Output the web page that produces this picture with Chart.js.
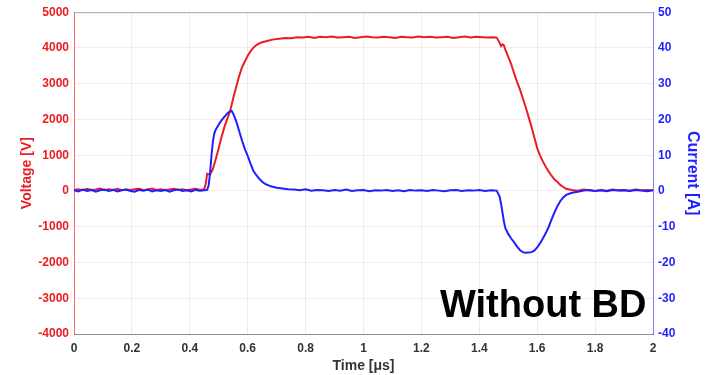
<!DOCTYPE html>
<html>
<head>
<meta charset="utf-8">
<script src="https://cdn.jsdelivr.net/npm/chart.js@4/dist/chart.umd.min.js"></script>
<style>
html,body{margin:0;padding:0;background:#fff;}
canvas{display:block;}
</style>
</head>
<body>
<canvas id="c" width="706" height="375"></canvas>
<script>
// ---- Data ----
const voltTime = [0,0.015,0.03,0.045,0.06,0.075,0.09,0.105,0.12,0.135,0.15,0.165,0.18,0.195,0.21,0.225,0.24,0.255,0.27,0.285,0.3,0.315,0.33,0.345,0.36,0.375,0.39,0.405,0.42,0.435,0.45,
  0.455,0.46,0.465,0.47,0.48,0.49,0.5,0.51,0.52,0.53,0.54,0.55,0.56,0.57,0.58,0.59,0.6,0.61,0.62,0.63,0.64,0.65,0.67,0.69,0.71,0.73,0.75,
  0.77,0.79,0.81,0.83,0.85,0.87,0.89,0.91,0.93,0.95,0.97,0.99,1.01,1.03,1.05,1.07,1.09,1.11,1.13,1.15,1.17,1.19,1.21,1.23,1.25,1.27,1.29,1.31,1.33,1.35,1.37,1.39,1.41,1.43,1.45,
  1.46,1.47,1.475,1.48,1.485,1.49,1.5,1.51,1.52,1.53,1.54,1.55,1.56,1.57,1.58,1.59,1.6,1.61,1.62,1.63,1.64,1.65,1.66,1.67,1.68,1.69,1.7,
  1.72,1.74,1.76,1.78,1.8,1.82,1.84,1.86,1.88,1.9,1.92,1.94,1.96,1.98,2.0];
const voltValues = [30,50,20,60,30,40,70,20,50,30,60,20,40,30,50,60,20,40,70,30,50,20,40,60,30,50,20,40,60,30,50,
  200,480,470,460,620,900,1200,1520,1800,2030,2250,2600,2900,3200,3450,3620,3780,3910,4010,4080,4130,4160,4200,4240,4260,4280,4270,
  4300,4290,4310,4280,4310,4300,4320,4290,4300,4310,4280,4300,4320,4300,4290,4310,4300,4280,4310,4300,4290,4320,4300,4310,4290,4300,4310,4280,4300,4320,4290,4310,4300,4290,4300,
  4290,4150,4050,4100,4070,3950,3750,3550,3300,3060,2850,2600,2350,2080,1800,1500,1200,990,820,670,540,420,320,250,170,110,60,
  30,10,40,20,0,30,10,40,20,30,10,40,20,30,20];

const currTime = [0,0.015,0.03,0.045,0.06,0.075,0.09,0.105,0.12,0.135,0.15,0.165,0.18,0.195,0.21,0.225,0.24,0.255,0.27,0.285,0.3,0.315,0.33,0.345,0.36,0.375,0.39,0.405,0.42,0.435,0.45,
  0.46,0.465,0.47,0.475,0.48,0.485,0.49,0.5,0.51,0.52,0.53,0.54,0.545,0.55,0.56,0.57,0.58,0.59,0.6,0.61,0.62,0.63,0.64,0.65,0.66,0.68,0.7,0.72,0.74,
  0.76,0.78,0.8,0.82,0.84,0.86,0.88,0.9,0.92,0.94,0.96,0.98,1.0,1.02,1.04,1.06,1.08,1.1,1.12,1.14,1.16,1.18,1.2,1.22,1.24,1.26,1.28,1.3,1.32,1.34,1.36,1.38,1.4,1.42,1.44,1.46,
  1.47,1.475,1.48,1.485,1.49,1.5,1.51,1.52,1.53,1.54,1.55,1.56,1.57,1.58,1.59,1.6,1.61,1.62,1.63,1.64,1.65,1.66,1.67,1.68,1.69,1.7,
  1.72,1.74,1.76,1.78,1.8,1.82,1.84,1.86,1.88,1.9,1.92,1.94,1.96,1.98,2.0];
const currValues = [0.2,-0.1,0.4,0,0.3,-0.2,0.2,0.4,0,0.3,-0.1,0.2,0.4,0,-0.2,0.3,0.1,0.4,-0.1,0.2,0,0.3,-0.2,0.2,0.4,0,0.2,-0.1,0.3,0.1,0.2,
  0.3,1.5,5,10,14,16.2,17.2,18.6,19.8,20.8,21.7,22.4,22.3,21.6,19.6,16.9,14.2,11.8,9.8,7.6,5.6,4.4,3.4,2.6,2.0,1.3,0.9,0.7,0.5,
  0.4,0.2,0.5,0.1,0.3,0.2,0,0.3,0.1,0.4,0,0.2,0.3,-0.1,0.2,0.1,0.3,0,0.2,-0.1,0.3,0.1,0.2,0,0.3,0.1,-0.1,0.2,0.3,0,0.2,0.1,0.3,0,0.2,0.1,
  -1.5,-3.5,-6,-8.5,-10.4,-12,-13.3,-14.3,-15.5,-16.5,-17.1,-17.3,-17.2,-17.1,-16.7,-15.8,-14.6,-13.2,-11.7,-10,-7.9,-5.9,-4.2,-2.8,-1.8,-1.1,
  -0.5,-0.2,0.1,0.3,0,0.2,-0.1,0.3,0.1,0.2,0,0.3,0.1,-0.1,0.2];

const xTicks = [0,0.2,0.4,0.6,0.8,1,1.2,1.4,1.6,1.8,2];
const voltTicks = [-4000,-3000,-2000,-1000,0,1000,2000,3000,4000,5000];
const currTicks = [-40,-30,-20,-10,0,10,20,30,40,50];
const annotationText = 'Without BD';

// ---- Chart ----
const FONT = "'Liberation Sans', Arial, Helvetica, sans-serif";
Chart.defaults.font.family = FONT;

const RED = '#ec1c24';
const BLUE = '#1f1fff';

const extras = {
  id: 'extras',
  beforeDatasetsDraw(chart) {
    const {ctx, chartArea: a} = chart;
    ctx.save();
    ctx.strokeStyle = '#a8a8a8';
    ctx.lineWidth = 1;
    ctx.beginPath();
    ctx.moveTo(a.left, a.top + 0.5);
    ctx.lineTo(a.right, a.top + 0.5);
    ctx.stroke();
    ctx.restore();
  },
  afterDraw(chart) {
    const {ctx} = chart;
    ctx.save();
    ctx.fillStyle = '#000';
    ctx.font = 'bold 38px ' + FONT;
    ctx.textAlign = 'left';
    ctx.textBaseline = 'alphabetic';
    ctx.fillText(annotationText, 440, 317);
    ctx.restore();
  }
};

new Chart(document.getElementById('c'), {
  type: 'line',
  data: {
    datasets: [
      {
        label: 'Current',
        data: currTime.map((t, i) => ({x: t, y: currValues[i]})),
        yAxisID: 'yI',
        borderColor: BLUE,
        borderWidth: 2,
        pointRadius: 0,
        tension: 0
      },
      {
        label: 'Voltage',
        data: voltTime.map((t, i) => ({x: t, y: voltValues[i]})),
        yAxisID: 'yV',
        borderColor: RED,
        borderWidth: 2,
        pointRadius: 0,
        tension: 0
      }
    ]
  },
  options: {
    responsive: false,
    animation: false,
    devicePixelRatio: 1,
    layout: {padding: {top: 10, left: 0, right: 0, bottom: 0}},
    plugins: {legend: {display: false}, tooltip: {enabled: false}},
    scales: {
      x: {
        type: 'linear',
        min: 0, max: 2,
        afterBuildTicks(s) { s.ticks = xTicks.map(v => ({value: v})); },
        afterFit(s) { s.height = 41; },
        ticks: {
          color: '#333',
          font: {size: 12, weight: 'bold'},
          padding: 7,
          maxRotation: 0,
          callback: v => String(v)
        },
        grid: {color: 'rgba(0,0,0,0.07)', drawTicks: false},
        border: {color: '#8c8c8c'},
        title: {
          display: true,
          text: 'Time [μs]',
          color: '#333',
          font: {size: 14, weight: 'bold'},
          padding: {top: 0, bottom: 0.6}
        }
      },
      yV: {
        type: 'linear',
        position: 'left',
        min: -4000, max: 5000,
        afterBuildTicks(s) { s.ticks = voltTicks.map(v => ({value: v})); },
        afterFit(s) { s.width = 74; },
        ticks: {
          color: RED,
          font: {size: 12, weight: 'bold'},
          padding: 5,
          callback: v => String(v)
        },
        grid: {color: 'rgba(255,0,0,0.09)', drawTicks: false},
        border: {color: 'rgba(255,60,60,0.75)'},
        title: {
          display: true,
          text: 'Voltage [V]',
          color: RED,
          font: {size: 14, weight: 'bold'},
          padding: {top: 18.6, bottom: 0}
        }
      },
      yI: {
        type: 'linear',
        position: 'right',
        min: -40, max: 50,
        afterBuildTicks(s) { s.ticks = currTicks.map(v => ({value: v})); },
        afterFit(s) { s.width = 53; },
        ticks: {
          color: BLUE,
          font: {size: 12, weight: 'bold'},
          padding: 5,
          callback: v => String(v)
        },
        grid: {display: false, drawTicks: false},
        border: {color: 'rgba(90,90,255,0.75)'},
        title: {
          display: true,
          text: 'Current [A]',
          color: BLUE,
          font: {size: 16, weight: 'bold'},
          padding: {top: 4.4, bottom: 0}
        }
      }
    }
  },
  plugins: [extras]
});
</script>
</body>
</html>
